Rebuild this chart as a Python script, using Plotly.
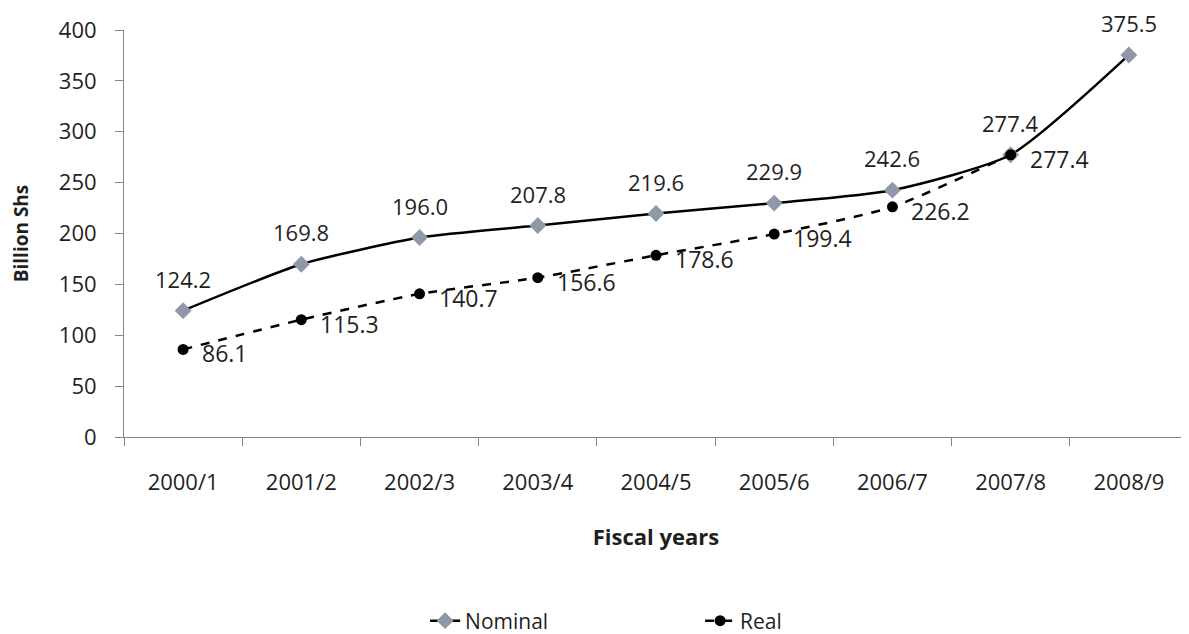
import plotly.graph_objects as go

years = ["2000/1", "2001/2", "2002/3", "2003/4", "2004/5", "2005/6", "2006/7", "2007/8", "2008/9"]
nominal = [124.2, 169.8, 196.0, 207.8, 219.6, 229.9, 242.6, 277.4, 375.5]
real_years = ["2000/1", "2001/2", "2002/3", "2003/4", "2004/5", "2005/6", "2006/7", "2007/8"]
real = [86.1, 115.3, 140.7, 156.6, 178.6, 199.4, 226.2, 277.4]

FONT = "Open Sans"
TXT = "#1f1f1f"

# The page body has an 8px default margin, so the figure is sized and
# positioned to compensate.
W, H = 1181, 626

fig = go.Figure()
fig.add_trace(go.Scatter(
    x=years, y=nominal, name="Nominal", mode="lines+markers",
    line=dict(color="black", width=2.5, shape="spline", smoothing=0.6),
    marker=dict(symbol="diamond", size=13, color="#8f98a8"),
))
fig.add_trace(go.Scatter(
    x=real_years, y=real, name="Real", mode="lines+markers",
    line=dict(color="black", width=2.5, dash="dash", shape="spline", smoothing=0.6),
    marker=dict(symbol="circle", size=11, color="black"),
))

annotations = []
for x, v in zip(years, nominal):
    annotations.append(dict(x=x, y=v, text=f"{v:.1f}", showarrow=False, borderpad=0,
                            yshift=32, font=dict(size=22, color=TXT, family=FONT)))
for x, v in zip(real_years, real):
    annotations.append(dict(x=x, y=v, text=f"{v:.1f}", showarrow=False,
                            xanchor="left", xshift=17, yshift=-4,
                            font=dict(size=23, color=TXT, family=FONT)))

fig.update_layout(
    width=W, height=H,
    margin=dict(l=116, r=1, t=22, b=197),
    paper_bgcolor="white", plot_bgcolor="white",
    font=dict(family=FONT, size=22, color=TXT),
    showlegend=True,
    legend=dict(orientation="h", x=0.283, xanchor="left", y=1 - 613 / H, yanchor="middle",
                yref="container", font=dict(size=21, family=FONT, color=TXT),
                entrywidth=230, entrywidthmode="pixels"),
    annotations=annotations,
    xaxis=dict(
        type="category", range=[-0.5, 8.5], showline=True, linecolor="#868686", linewidth=1,
        ticks="outside", ticklen=8, tickcolor="#868686", tickson="boundaries",
        showgrid=False, zeroline=False, ticklabelstandoff=26, automargin=False,
        tickfont=dict(size=22, family=FONT, color=TXT),
        title=dict(text="<b>Fiscal years</b>", font=dict(size=22, family=FONT, color=TXT), standoff=34),
    ),
    yaxis=dict(
        range=[0, 400], tickmode="linear", tick0=0, dtick=50, showline=True,
        linecolor="#868686", linewidth=1, ticks="outside", ticklen=8, tickcolor="#868686",
        showgrid=False, zeroline=False, ticklabelstandoff=14, automargin=False,
        tickfont=dict(size=22, family=FONT, color=TXT),
        title=dict(text="<b>Billion Shs</b>", font=dict(size=19, family=FONT, color=TXT), standoff=26),
    ),
)

fig.write_html("out.html")
